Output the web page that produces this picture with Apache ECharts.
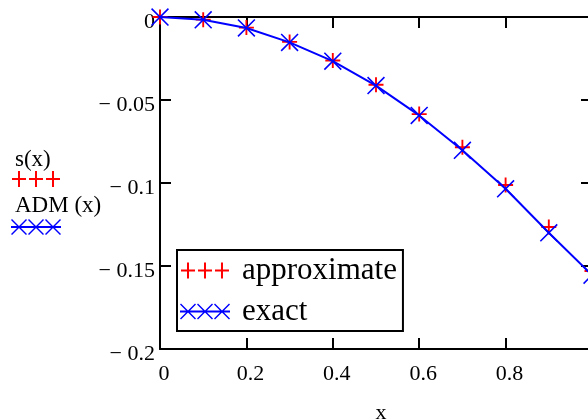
<!DOCTYPE html>
<html>
<head>
<meta charset="utf-8">
<script src="https://cdn.jsdelivr.net/npm/echarts@6/dist/echarts.min.js"></script>
<style>
  html, body { margin: 0; padding: 0; background: #fff; }
  #chart { width: 588px; height: 419px; }
</style>
</head>
<body>
<div id="chart"></div>
<script>
// values
const xValues = [0, 0.1, 0.2, 0.3, 0.4, 0.5, 0.6, 0.7, 0.8, 0.9, 1.0];
const approximate = [0, -0.0016, -0.0064, -0.0150, -0.0262, -0.0408, -0.0585, -0.0785, -0.1012, -0.1265, -0.1530];
const exact = [0, -0.0017, -0.0066, -0.0153, -0.0266, -0.0413, -0.0593, -0.0803, -0.1035, -0.1300, -0.1555];
const seriesNames = ['approximate', 'exact'];
const sideLabels = ['s(x)', 'ADM (x)'];

const FONT = '"Liberation Serif", "Times New Roman", serif';

// marker shapes
const plusPath = 'path://M0,7 L16,7 L16,9 L0,9 Z M7,0 L9,0 L9,16 L7,16 Z';
const crossPath = 'path://M0,1 L1,0 L16,15 L15,16 Z M15,0 L16,1 L1,16 L0,15 Z';

// legend icons: three pluses / three crosses on a line
const threePlus = () => {
    let d = '';
    [8, 25, 42].forEach(c => {
        d += `M${c - 7},7 L${c + 7},7 L${c + 7},9 L${c - 7},9 Z `;
        d += `M${c - 1},0 L${c + 1},0 L${c + 1},16 L${c - 1},16 Z `;
    });
    return 'path://' + d + 'M0,0 L0.01,0 Z M50,16 L50.01,16 Z';
};
const threeCross = () => {
    let d = 'M0,7 L50,7 L50,9 L0,9 Z ';
    [8, 25, 42].forEach(c => {
        d += `M${c - 8},1 L${c - 7},0 L${c + 8},15 L${c + 7},16 Z `;
        d += `M${c + 7},0 L${c + 8},1 L${c - 7},16 L${c - 8},15 Z `;
    });
    return 'path://' + d;
};

const pairs = (ys) => xValues.map((x, i) => [x, ys[i]]);

const axisLine = { show: true, onZero: false, lineStyle: { color: '#000', width: 2 } };
const axisTick = { show: true, inside: true, length: 11, lineStyle: { color: '#000', width: 2 } };

const fmtY = (v) => v === 0 ? '0' : '\u2212 ' + (+Math.abs(v).toFixed(2));
const fmtX = (v) => v >= 1 ? '' : String(+v.toFixed(1));

const chart = echarts.init(document.getElementById('chart'));
chart.setOption({
    animation: false,
    backgroundColor: '#fff',
    grid: { left: 160, top: 17, width: 432, height: 332, containLabel: false, outerBoundsMode: 'none' },
    xAxis: [
        {
            type: 'value', min: 0, max: 1, interval: 0.2, position: 'bottom',
            axisLine, axisTick, splitLine: { show: false },
            axisLabel: { formatter: fmtX, color: '#000', fontFamily: FONT, fontSize: 22, margin: 14, padding: [0, 0, 0, 8] },
            name: 'x', nameLocation: 'middle', nameGap: 53,
            nameTextStyle: { color: '#000', fontFamily: FONT, fontSize: 22, padding: [0, 0, 0, 10] }
        },
        {
            type: 'value', min: 0, max: 1, interval: 0.2, position: 'top',
            axisLine, axisTick, splitLine: { show: false }, axisLabel: { show: false }
        }
    ],
    yAxis: [
        {
            type: 'value', min: -0.2, max: 0, interval: 0.05, position: 'left',
            axisLine, axisTick, splitLine: { show: false },
            axisLabel: { formatter: fmtY, color: '#000', fontFamily: FONT, fontSize: 22, margin: 5,
                verticalAlign: 'top', lineHeight: 10 }
        },
        {
            type: 'value', min: -0.2, max: 0, interval: 0.05, position: 'right',
            axisLine, axisTick, splitLine: { show: false }, axisLabel: { show: false }
        }
    ],
    legend: [
        {
            data: seriesNames.map((n, i) => ({ name: n, icon: i === 0 ? threePlus() : threeCross() })),
            orient: 'vertical', left: 177, top: 250,
            itemWidth: 50, itemHeight: 16, itemGap: 10,
            padding: [5, 6, 4, 3],
            borderColor: '#000', borderWidth: 2, borderRadius: 0,
            backgroundColor: '#fff',
            selectedMode: false,
            itemStyle: { borderWidth: 0 },
            textStyle: { color: '#000', fontFamily: FONT, fontSize: 31, padding: [0, 0, 0, 7] }
        },
        {
            data: seriesNames.map((n, i) => ({ name: n, icon: i === 0 ? threePlus() : threeCross() })),
            orient: 'vertical', left: 10, top: 171,
            itemWidth: 52, itemHeight: 16, itemGap: 32,
            padding: 0,
            selectedMode: false,
            itemStyle: { borderWidth: 0 },
            formatter: () => '',
            textStyle: { fontSize: 8 }
        }
    ],
    graphic: [
        { type: 'text', left: 15, top: 148, style: { text: sideLabels[0], fill: '#000', font: '23px ' + FONT } },
        { type: 'text', left: 15, top: 194, style: { text: sideLabels[1], fill: '#000', font: '23px ' + FONT } }
    ],
    series: [
        {
            name: seriesNames[0], type: 'line', data: pairs(approximate),
            symbol: plusPath, symbolSize: 15, showSymbol: true,
            lineStyle: { width: 0, opacity: 0 },
            itemStyle: { color: '#ff0000', borderWidth: 0 },
            clip: false, z: 2
        },
        {
            name: seriesNames[1], type: 'line', data: pairs(exact),
            symbol: crossPath, symbolSize: 18, showSymbol: true,
            lineStyle: { width: 2, color: '#0000ff' },
            itemStyle: { color: '#0000ff', borderWidth: 0 },
            clip: false, z: 3
        }
    ]
});
window.addEventListener('resize', () => chart.resize());
</script>
</body>
</html>
